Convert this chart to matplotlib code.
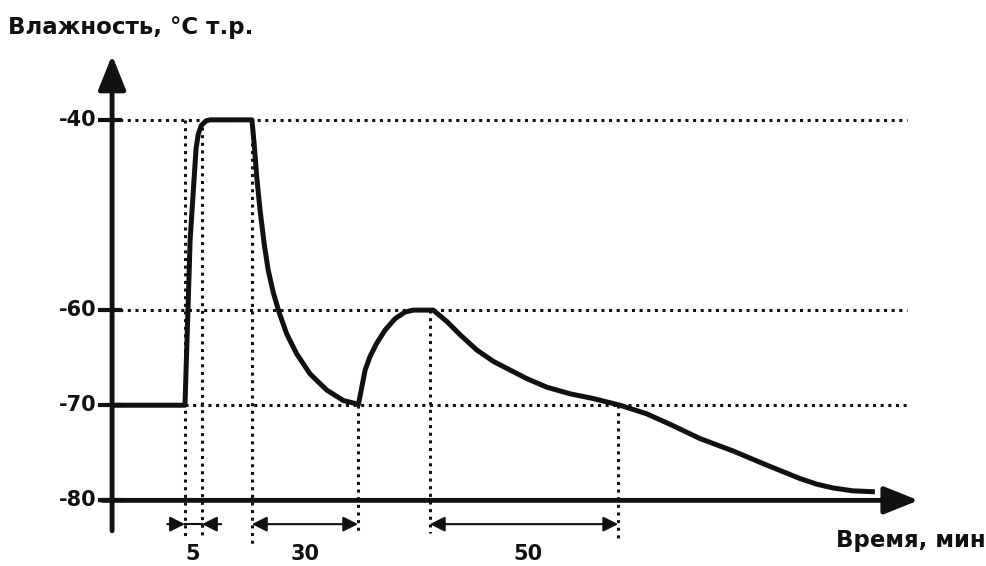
import numpy as np
import matplotlib as mat
mat.use('Agg')
import matplotlib.pyplot as plt

# humidity curve (time in min, dew point in C)
time_pts = [0, 19.7, 21.1, 22.7, 23.3, 24.1, 25.4, 26.5,
            37.8, 38.4, 39.1, 40.0, 41.1, 42.2, 43.6, 45.2, 47.2, 49.9, 53.5, 58.0, 62.5, 66.6,
            67.5, 68.4, 69.7, 71.5, 73.8, 76.5, 79.2, 81.4, 85.9,
            86.8, 90.5, 94.1, 98.6, 103.1, 107.6, 112.1, 117.5, 123.8, 130.1, 137.3, 144.5, 150.8,
            158.9, 167.8, 177.0, 185.9, 190.5, 194.9, 200.3, 206.2]
hum_pts = [-70, -70, -52.6, -43.0, -41.5, -40.6, -40.1, -40,
           -40, -42.5, -46.0, -49.5, -53.0, -55.8, -58.2, -60.3, -62.5, -64.6, -66.7, -68.4, -69.5, -69.9,
           -68.1, -66.3, -64.9, -63.5, -62.1, -60.9, -60.2, -60, -60,
           -60, -61.2, -62.6, -64.2, -65.4, -66.3, -67.2, -68.1, -68.8, -69.3, -70, -70.9, -72.0,
           -73.5, -74.8, -76.3, -77.7, -78.3, -78.7, -79.0, -79.1]

y_ticks = [-40, -60, -70, -80]
grid_levels = [-40, -60, -70]
grid_starts = [0, 0, 19.7]

mark_times = [19.7, 24.3, 37.8, 66.5, 85.9, 136.8]
mark_tops = [-40, -40.8, -40, -70, -60, -70]
mark_bottoms = [-83.7, -83.7, -84.7, -83.2, -83.4, -84.1]

span_starts = [19.7, 37.8, 85.9]
span_ends = [24.3, 66.5, 136.8]
span_labels = ['5', '30', '50']

fig = plt.figure(figsize=(9.87, 5.66), dpi=100)
ax = fig.add_axes([0, 0, 1, 1])
ax.set_xlim(-30.3, 236.5)
ax.set_ylim(-86.9, -27.4)
ax.axis('off')

dots = (0, (1, 1.5))
font = dict(family='DejaVu Sans', weight='bold', color='#111111')

# dotted helper lines
for lev, st in zip(grid_levels, grid_starts):
    ax.plot([st, 215], [lev, lev], color='#111111', lw=2.2, linestyle=dots)
for t, top, bot in zip(mark_times, mark_tops, mark_bottoms):
    ax.plot([t, t], [top, bot], color='#111111', lw=2.2, linestyle=dots)

# the curve
ax.plot(time_pts, hum_pts, color='#111111', lw=3.6, solid_joinstyle='round', solid_capstyle='butt')

# axes with arrows
big = dict(arrowstyle='-|>,head_length=1.5,head_width=0.6', lw=3.5, color='#111111',
           mutation_scale=14, shrinkA=0, shrinkB=0)
ax.annotate('', xy=(0, -33.2), xytext=(0, -83.2), arrowprops=big)
ax.annotate('', xy=(218, -80), xytext=(-2.7, -80), arrowprops=big)

for v in y_ticks:
    ax.plot([-3.2, 2.2], [v, v], color='#111111', lw=3)
    ax.text(-4.3, v, str(v), ha='right', va='center', fontsize=15, **font)

# spans under the time axis
small = dict(arrowstyle='-|>,head_length=0.9,head_width=0.45', lw=1.5, color='#111111',
             mutation_scale=10, shrinkA=0, shrinkB=0)
both = dict(small, arrowstyle='<|-|>,head_length=0.9,head_width=0.45')
ax.annotate('', xy=(span_starts[0], -82.5), xytext=(14.9, -82.5), arrowprops=small)
ax.annotate('', xy=(span_ends[0], -82.5), xytext=(29.5, -82.5), arrowprops=small)
ax.plot([span_starts[0], span_ends[0]], [-82.5, -82.5], color='#111111', lw=1.5)
for a, b in zip(span_starts[1:], span_ends[1:]):
    ax.annotate('', xy=(b, -82.5), xytext=(a, -82.5), arrowprops=both)
label_x = [21.9, 52.2, 112.4]
for x, lab in zip(label_x, span_labels):
    ax.text(x, -85.6, lab, ha='center', va='center', fontsize=15, **font)

ax.text(-28.1, -30.3, 'Влажность, °C т.р.', ha='left', va='center', fontsize=16.5, **font)
ax.text(236.2, -84.2, 'Время, мин', ha='right', va='center', fontsize=16.5, **font)

plt.savefig('out.png', dpi=100)
